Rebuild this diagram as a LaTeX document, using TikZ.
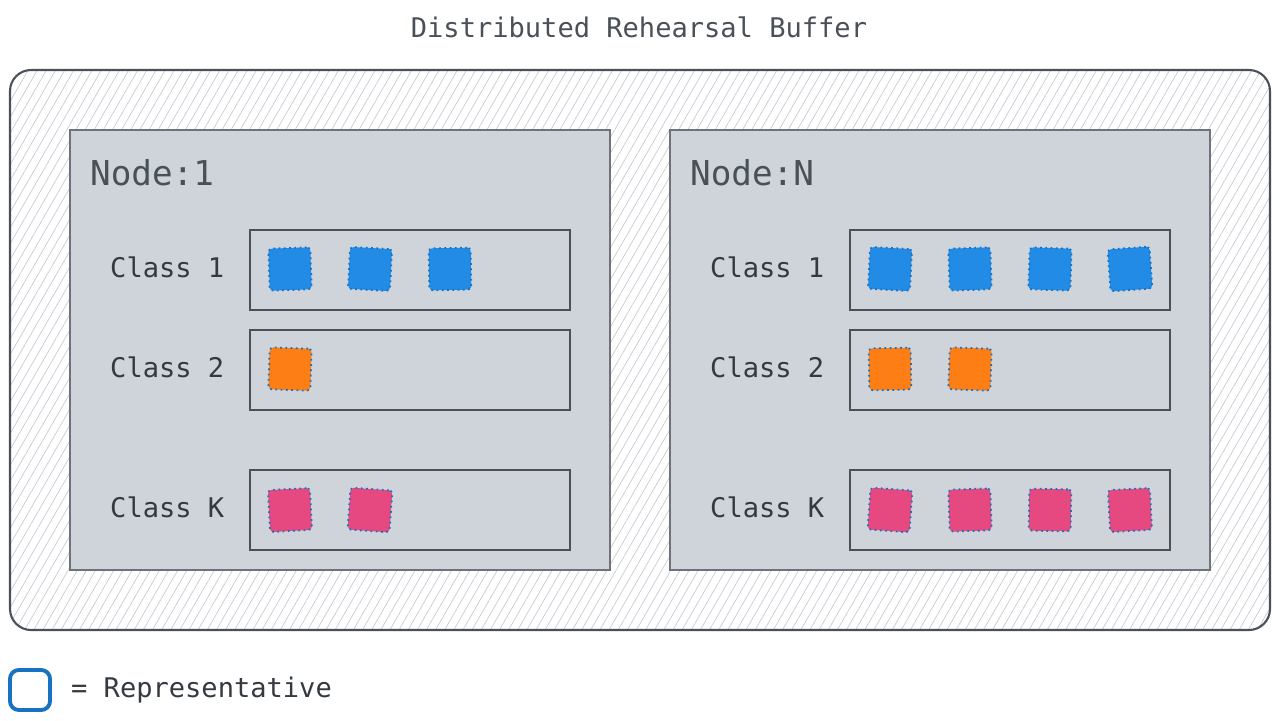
\documentclass[tikz,border=0pt]{standalone}
\usepackage{fontspec}
\setmonofont{DejaVu Sans Mono}
\usepackage{xcolor}
\usepackage{tikz}
\usetikzlibrary{positioning, patterns.meta}

\definecolor{ink}{HTML}{343A40}
\definecolor{slate}{HTML}{495057}
\definecolor{panel}{HTML}{CED4DA}
\definecolor{hatch}{HTML}{C5CBD3}
\definecolor{cblue}{HTML}{228BE6}
\definecolor{corange}{HTML}{FD7E14}
\definecolor{cpink}{HTML}{E64980}
\definecolor{repblue}{HTML}{1971C2}

\begin{document}
\begin{tikzpicture}[
    buffer/.style={draw=slate, line width=1.2pt, rounded corners=12pt, pattern={Lines[angle=60, distance=4.5pt, line width=0.4pt]}, pattern color=hatch},
    nodebox/.style={draw=slate!80, line width=0.7pt, fill=panel},
    classbox/.style={draw=slate, line width=0.8pt},
    nodetitle/.style={anchor=west, text=slate, font=\ttfamily\fontsize{19.5}{22}\selectfont},
    classlabel/.style={anchor=west, text=ink, font=\ttfamily\fontsize{15.4}{18}\selectfont},
    sample/.style={rectangle, minimum size=0.84cm, inner sep=0pt, rounded corners=2pt, fill=#1, draw=repblue, dotted, line width=1pt}
]
\useasboundingbox (0,0) rectangle (25.6,-14.4);

\node[text=slate, font=\ttfamily\fontsize{15.4}{18}\selectfont] (title) at (12.78,-0.54) {Distributed Rehearsal Buffer};

\draw[buffer] (0.2,-1.4) rectangle (25.4,-12.6);

% node 1
\draw[nodebox] (1.4,-2.6) rectangle (12.2,-11.4);
\node[nodetitle] (n1) at (1.68,-3.46) {Node:1};
\draw[classbox] (5.0,-4.6) rectangle (11.4,-6.2);
\draw[classbox] (5.0,-6.6) rectangle (11.4,-8.2);
\draw[classbox] (5.0,-9.4) rectangle (11.4,-11.0);
\node[classlabel] (n1c1) at (2.08,-5.34) {Class 1};
\node[classlabel] (n1c2) at (2.08,-7.34) {Class 2};
\node[classlabel] (n1ck) at (2.08,-10.14) {Class K};

\node[sample=cblue, rotate=2] (a11) at (5.8,-5.38) {};
\node[sample=cblue, rotate=-3] (a12) at (7.4,-5.38) {};
\node[sample=cblue, rotate=1] (a13) at (9.0,-5.38) {};
\node[sample=corange, rotate=-2] (a21) at (5.8,-7.38) {};
\node[sample=cpink, rotate=3] (ak1) at (5.8,-10.2) {};
\node[sample=cpink, rotate=-4] (ak2) at (7.4,-10.2) {};

% node N
\draw[nodebox] (13.4,-2.6) rectangle (24.2,-11.4);
\node[nodetitle] (nn) at (13.68,-3.46) {Node:N};
\draw[classbox] (17.0,-4.6) rectangle (23.4,-6.2);
\draw[classbox] (17.0,-6.6) rectangle (23.4,-8.2);
\draw[classbox] (17.0,-9.4) rectangle (23.4,-11.0);
\node[classlabel] (nnc1) at (14.08,-5.34) {Class 1};
\node[classlabel] (nnc2) at (14.08,-7.34) {Class 2};
\node[classlabel] (nnck) at (14.08,-10.14) {Class K};

\node[sample=cblue, rotate=-3] (b11) at (17.8,-5.38) {};
\node[sample=cblue, rotate=2] (b12) at (19.4,-5.38) {};
\node[sample=cblue, rotate=-2] (b13) at (21.0,-5.38) {};
\node[sample=cblue, rotate=4] (b14) at (22.6,-5.38) {};
\node[sample=corange, rotate=1] (b21) at (17.8,-7.38) {};
\node[sample=corange, rotate=-2] (b22) at (19.4,-7.38) {};
\node[sample=cpink, rotate=-4] (bk1) at (17.8,-10.2) {};
\node[sample=cpink, rotate=2] (bk2) at (19.4,-10.2) {};
\node[sample=cpink, rotate=-1] (bk3) at (21.0,-10.2) {};
\node[sample=cpink, rotate=3] (bk4) at (22.6,-10.2) {};

% legend
\node[rectangle, minimum size=0.8cm, rounded corners=5pt, draw=repblue, line width=2.2pt] (rep) at (0.6,-13.8) {};
\node[classlabel, right=0.26cm of rep] (replabel) {= Representative};
\end{tikzpicture}
\end{document}
